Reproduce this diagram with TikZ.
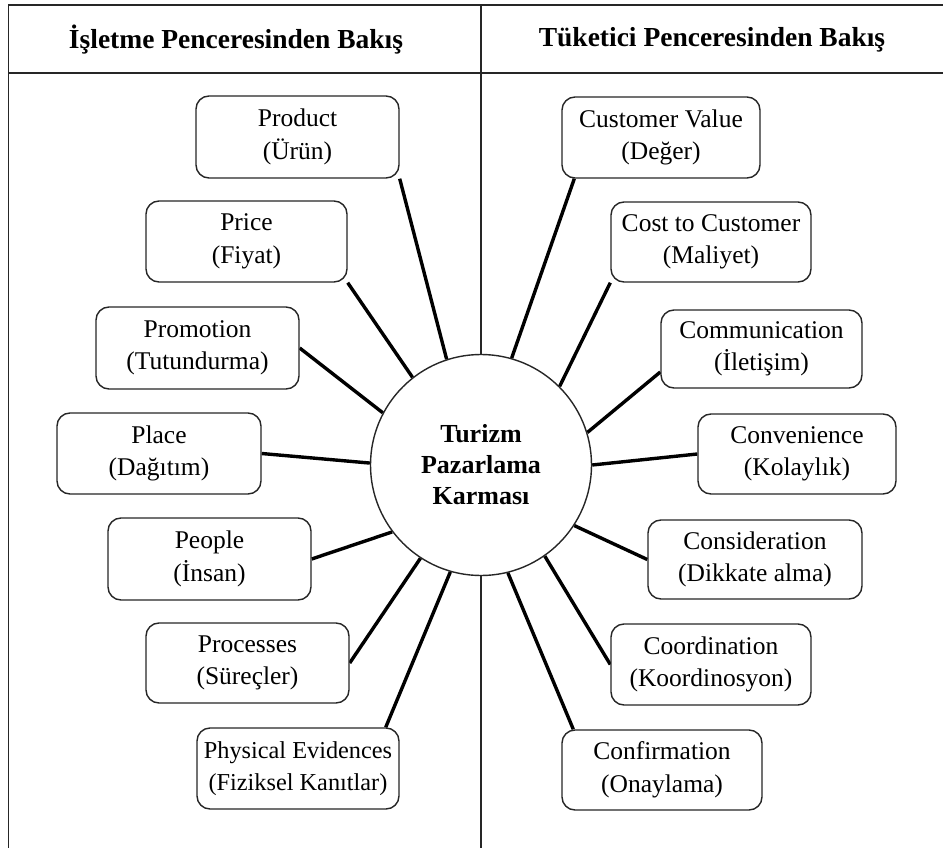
\documentclass[tikz,border=0pt]{standalone}
\usepackage{fontspec}
\setmainfont{Liberation Serif}
\usetikzlibrary{calc,backgrounds}

\tikzset{
  frameline/.style={line width=1.6pt, draw=black!85},
  mixbox/.style={draw=black!85, line width=1.4pt, rounded corners=13pt, fill=white,
    align=center, inner sep=0pt, font=\fontsize{25.5}{32.5}\selectfont},
  spoke/.style={line width=3.4pt, black},
  hub/.style={circle, draw=black!85, line width=1.4pt, fill=white, minimum size=221pt,
    inner sep=0pt, align=center, font=\bfseries\fontsize{26}{31}\selectfont},
  headtext/.style={font=\bfseries\fontsize{27.5}{30}\selectfont, inner sep=0pt}
}

\begin{document}
\begin{tikzpicture}[x=1pt, y=-1pt]
  \useasboundingbox (0,0) rectangle (943,848);

  % column headings
  \node[headtext] (hleft)  at (236,40) {İşletme Penceresinden Bakış};
  \node[headtext] (hright) at (712,40) {Tüketici Penceresinden Bakış};

  % central circle
  \node[hub] (hub) at (481,465) {Turizm\\Pazarlama\\Karması};

  % left column boxes
  \node[mixbox, minimum width=203pt, minimum height=82pt] (p1) at (297.5,137) {Product\\(Ürün)};
  \node[mixbox, minimum width=201pt, minimum height=81pt] (p2) at (246.5,241.5) {Price\\(Fiyat)};
  \node[mixbox, minimum width=203pt, minimum height=82pt] (p3) at (197.5,348) {Promotion\\(Tutundurma)};
  \node[mixbox, minimum width=204pt, minimum height=81pt] (p4) at (159,453.5) {Place\\(Dağıtım)};
  \node[mixbox, minimum width=203pt, minimum height=82pt] (p5) at (209.5,559) {People\\(İnsan)};
  \node[mixbox, minimum width=203pt, minimum height=80pt] (p6) at (247.5,663) {Processes\\(Süreçler)};
  \node[mixbox, minimum width=202pt, minimum height=81pt, font=\fontsize{24.3}{32.5}\selectfont]
    (p7) at (298,768.5) {Physical Evidences\\(Fiziksel Kanıtlar)};

  % right column boxes
  \node[mixbox, minimum width=198pt, minimum height=81pt] (c1) at (661,137.5) {Customer Value\\(Değer)};
  \node[mixbox, minimum width=200pt, minimum height=80pt] (c2) at (711,242) {Cost to Customer\\(Maliyet)};
  \node[mixbox, minimum width=201pt, minimum height=78pt] (c3) at (761.5,349) {Communication\\(İletişim)};
  \node[mixbox, minimum width=198pt, minimum height=80pt] (c4) at (797,454) {Convenience\\(Kolaylık)};
  \node[mixbox, minimum width=214pt, minimum height=79pt] (c5) at (755,559.5) {Consideration\\(Dikkate alma)};
  \node[mixbox, minimum width=200pt, minimum height=81pt] (c6) at (711,664.5) {Coordination\\(Koordinosyon)};
  \node[mixbox, minimum width=200pt, minimum height=80pt] (c7) at (662,770) {Confirmation\\(Onaylama)};

  \begin{scope}[on background layer]
    % outer frame, header rule and column divider
    \coordinate (tl) at (8.5,5);
    \coordinate (tr) at (943,5);
    \coordinate (bl) at (8.5,848);
    \coordinate (hl) at (8.5,73);
    \coordinate (hr) at (943,73);
    \coordinate (dt) at (481,5);
    \coordinate (db) at (481,848);
    \draw[frameline] (tr) -- (tl) -- (bl);
    \draw[frameline] (hl) -- (hr);
    \draw[frameline, line width=1.3pt] (dt) -- (db);

    % spokes from the boxes to the circle
    \draw[spoke] (p1.south east) -- (hub.108.8);
    \draw[spoke] (p2.south east) -- (hub.128.4);
    \draw[spoke] (p3.east) -- (hub.152.3);
    \draw[spoke] (p4.east) -- (hub.179.5);
    \draw[spoke] (p5.east) -- (hub.217);
    \draw[spoke] (p6.east) -- (hub.237.7);
    \draw[spoke] ($(p7.north east)+(-14,0)$) -- (hub.254.3);
    \draw[spoke] ($(c1.south west)+(13,0)$) -- (hub.74.7);
    \draw[spoke] (c2.south west) -- (hub.45);
    \draw[spoke] ($(c3.west)+(0,23)$) -- (hub.17.4);
    \draw[spoke] (c4.west) -- (hub.0.5);
    \draw[spoke] (c5.west) -- (hub.-33.1);
    \draw[spoke] (c6.west) -- (hub.-55.5);
    \draw[spoke] ($(c7.north west)+(12,0)$) -- (hub.-76.3);
  \end{scope}
\end{tikzpicture}
\end{document}
